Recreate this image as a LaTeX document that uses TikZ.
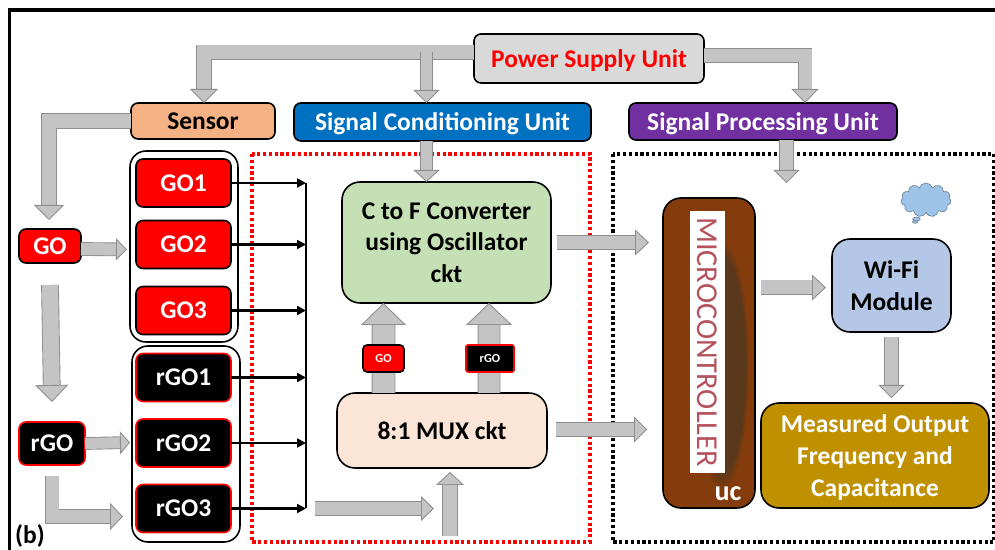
\documentclass[tikz,border=0pt]{standalone}
\usepackage{fontspec}
\setmainfont{Carlito}
\usetikzlibrary{arrows.meta,fadings,shapes.callouts,shapes.symbols}
\def\s{0.02cm}
\definecolor{arrowfill}{HTML}{C4C4C4}
\definecolor{arrowedge}{HTML}{8E8E8E}
\definecolor{sensorfill}{HTML}{F4B183}
\definecolor{scufill}{HTML}{0070C0}
\definecolor{spufill}{HTML}{7030A0}
\definecolor{greenfill}{HTML}{C5E0B4}
\definecolor{muxfill}{HTML}{FBE5D6}
\definecolor{microfill}{HTML}{843C0C}
\definecolor{microdark}{HTML}{5A381C}
\definecolor{microtext}{HTML}{B5525C}
\definecolor{wififill}{HTML}{B4C7E7}
\definecolor{outfill}{HTML}{BF9000}
\definecolor{cloudfill}{HTML}{9DC3E6}
\tikzset{
  unitbox/.style={draw=black,line width=0.9pt,rounded corners=7*\s,inner sep=0pt,outer sep=0pt,
    align=center,text depth=0pt,font=\fontsize{14.5}{18}\selectfont\bfseries},
  gobox/.style={unitbox,fill=red,text=white,minimum width=95*\s,minimum height=48*\s},
  rgobox/.style={unitbox,draw=red,fill=black,text=white,minimum width=95*\s,minimum height=48*\s},
  groupbox/.style={draw=black,line width=0.9pt,rounded corners=16*\s},
  bigbox/.style={unitbox,rounded corners=18*\s},
  bigarrow/.style n args={3}{draw=arrowedge,line width=0.5pt,double=arrowfill,double distance=#1*\s,
    -{Triangle[width=#2*\s,length=#3*\s,fill=arrowfill,color=arrowedge,line width=0.5pt]}},
  busarrow/.style={black,line width=1.4pt,-{Triangle[width=5pt,length=5pt]}},
  dotbox/.style={line width=1.8pt,dash pattern=on 1.8pt off 1.5pt}
}
\begin{document}
\begin{tikzpicture}[x=0.02cm,y=-0.02cm]
\useasboundingbox (0,0) rectangle (995,550);
% ---- frame, left and top only ----
\draw[black,line width=1.8pt] (9.5,550) -- (9.5,10) -- (995,10);
% ---- dotted areas ----
\draw[dotbox,red] (252,154) rectangle (590,542);
\draw[dotbox,black] (613,154) rectangle (994,542);
% ---- unit headers ----
\node (power) [unitbox,fill=black!15,text=red,minimum width=230*\s,minimum height=49*\s] at (589,58.5) {Power Supply Unit};
\node (sensor) [unitbox,fill=sensorfill,minimum width=144*\s,minimum height=36*\s] at (203,121) {Sensor};
\node (scu) [unitbox,fill=scufill,text=white,minimum width=297*\s,minimum height=38*\s] at (442.5,122) {Signal Conditioning Unit};
\node (spu) [unitbox,fill=spufill,text=white,minimum width=268*\s,minimum height=37*\s] at (763,121.5) {Signal Processing Unit};
% ---- sensor groups ----
\draw[groupbox] (130,151) rectangle (238,342);
\draw[groupbox] (132,346) rectangle (240,542);
\coordinate (gogroup) at (127,249.5);
\coordinate (rgogroup) at (130,442.5);
\node (go) [gobox,minimum width=62*\s,minimum height=34*\s] at (50,246) {GO};
\node (rgo) [rgobox,minimum width=66*\s,minimum height=43*\s] at (52,443.5) {rGO};
\foreach \n/\y in {1/183,2/244.5,3/310.5}{
  \node (go\n) [gobox] at (183.5,\y) {GO\n};
}
\foreach \n/\y in {1/377.5,2/443,3/508.5}{
  \node (rgo\n) [rgobox] at (183.5,\y) {rGO\n};
}
% ---- circuit blocks ----
\node (conv) [bigbox,fill=greenfill,minimum width=209*\s,minimum height=121*\s] at (446.5,242.5) {C to F Converter\\using Oscillator\\ckt};
\node (mux) [bigbox,fill=muxfill,minimum width=210*\s,minimum height=75*\s] at (442,430.5) {8:1 MUX ckt};
\node (micro) [bigbox,fill=microfill,minimum width=92*\s,minimum height=310*\s] at (709,353) {};
\fill[microdark,path fading=circle with fuzzy edge 15 percent] (722,365) ellipse (27 and 125);
\node (microlabel) [fill=white,text=microtext,inner sep=0pt,minimum width=262*\s,minimum height=35*\s,rotate=-90,
  font=\fontsize{17.3}{17}\selectfont] at (707.5,342) {MICROCONTROLLER};
\node (uc) [text=white,font=\fontsize{16}{16}\selectfont\bfseries] at (728,494) {uc};
\node (wifi) [bigbox,fill=wififill,minimum width=119*\s,minimum height=93*\s] at (891.5,285.5) {Wi-Fi\\Module};
\node (output) [bigbox,fill=outfill,text=white,minimum width=228*\s,minimum height=105*\s] at (875,455.5) {Measured Output\\Frequency and\\Capacitance};
\node (cloud) [cloud callout,draw=cloudfill!70!black,line width=0.4pt,fill=cloudfill,aspect=1.5,cloud puffs=11,
  minimum width=50*\s,minimum height=34*\s,callout absolute pointer={(915,222)}] at (926,200) {};
% ---- power and signal arrows ----
\coordinate (tapa) at (426.5,52);
\coordinate (spuin) at (786.5,183);
\coordinate (bus) at (306,183);
\coordinate (busout) at (315,508.5);
\coordinate (muxtail) at (450,536);
\coordinate (muxtip) at (434,508.5);
\draw[bigarrow={14}{28}{14}] ([yshift=6*\s]power.west) -| ([xshift=1*\s]sensor.north);
\draw[bigarrow={11}{26}{13}] (tapa) -- (tapa |- scu.north);
\draw[bigarrow={13}{27}{14}] ([yshift=3*\s]power.east) -| ([xshift=42*\s]spu.north);
\draw[bigarrow={14}{30}{15}] (sensor.west) -| ([xshift=-1*\s,yshift=9*\s]go.north);
\draw[bigarrow={12}{22}{11}] ([yshift=-3*\s]go.east) -- (gogroup);
\draw[bigarrow={16}{33}{17}] ([yshift=-22*\s]go.south) -- ([yshift=20*\s]rgo.north);
\draw[bigarrow={11}{23}{10}] (rgo.east) -- (rgogroup);
\draw[bigarrow={13}{27}{13}] ([yshift=-11*\s]rgo.south) |- ([xshift=-13*\s,yshift=-8*\s]rgo3.west);
\draw[bigarrow={11}{26}{12}] (tapa |- scu.south) -- (tapa |- conv.north);
\draw[bigarrow={13}{26}{13}] (spuin |- spu.south) -- (spuin);
\draw[bigarrow={22}{45}{22}] ([xshift=-58.5*\s]mux.north) -- ([xshift=-63*\s]conv.south);
\draw[bigarrow={21}{46}{22}] ([xshift=47*\s]mux.north) -- ([xshift=42.5*\s]conv.south);
\draw[bigarrow={13}{25}{13}] (busout) -- (muxtip);
\draw[bigarrow={14}{28}{13}] (muxtail) -- ([xshift=8*\s,yshift=-4*\s]mux.south);
\draw[bigarrow={13}{26}{14}] ([xshift=6*\s]conv.east) -- ([xshift=-14*\s]conv.east -| micro.west);
\draw[bigarrow={13}{26}{13}] ([xshift=9*\s,yshift=1*\s]mux.east) -- ([xshift=-16*\s,yshift=1*\s]mux.east -| micro.west);
\draw[bigarrow={14}{26}{14}] ([xshift=6*\s,yshift=-2*\s]micro.east |- wifi.west) -- ([xshift=-6*\s,yshift=-2*\s]wifi.west);
\draw[bigarrow={13}{26}{13}] ([yshift=-5*\s]wifi.south) -- ([xshift=16.5*\s,yshift=5*\s]output.north);
% ---- inputs onto the bus ----
\draw[black,line width=0.9pt] (bus) -- (bus |- rgo3.east);
\foreach \nm in {go1,go2,go3,rgo1,rgo2,rgo3}{
  \draw[busarrow] (\nm.east) -- (\nm.east -| bus);
}
% ---- tags on the two big arrows ----
\node (gotag) [gobox,minimum width=41*\s,minimum height=27*\s,rounded corners=4*\s,font=\fontsize{7}{7}\selectfont\bfseries] at (383.5,358.5) {GO};
\node (rgotag) [rgobox,minimum width=48*\s,minimum height=27*\s,rounded corners=2*\s,font=\fontsize{7}{7}\selectfont\bfseries] at (490,358.5) {rGO};
\node (panel) [font=\fontsize{14.5}{14}\selectfont\bfseries] at (30,536) {(b)};
\end{tikzpicture}
\end{document}
